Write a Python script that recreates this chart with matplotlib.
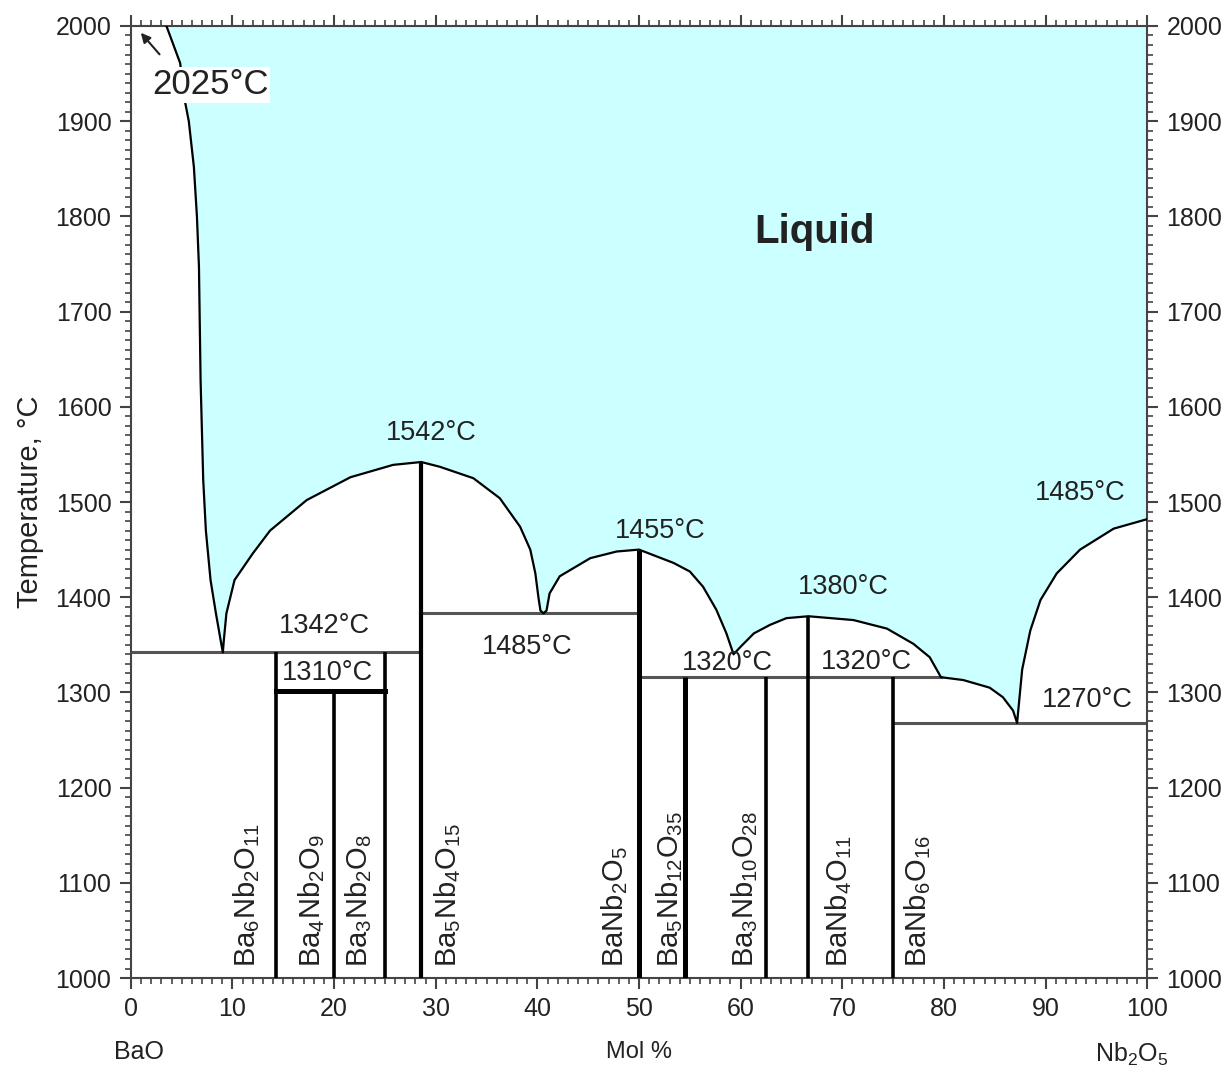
# BaO - Nb2O5 phase diagram

import matplotlib
matplotlib.use("Agg")
import matplotlib.pyplot as plt
from matplotlib.ticker import MultipleLocator

plt.rcParams["font.family"] = ["Liberation Sans", "DejaVu Sans"]
plt.rcParams["mathtext.fontset"] = "custom"
plt.rcParams["mathtext.rm"] = "Liberation Sans"
plt.rcParams["mathtext.default"] = "regular"

# liquidus curve (mol % Nb2O5, temperature in C)
liq_x = [3.5, 4.85, 5.3, 5.7, 6.2, 6.5, 6.7, 6.86, 7.12, 7.38, 7.84, 8.37, 8.83, 9.05,
         9.15, 9.4, 10.2, 12.0, 13.7, 17.3, 21.6, 25.8, 28.57,
         30.4, 33.7, 36.3, 38.3, 39.3, 39.8, 40.1, 40.3, 40.6,
         40.9, 41.2, 42.2, 45.2, 47.8, 50.0,
         53.4, 55.0, 56.3, 57.6, 58.6, 59.3,
         60.0, 61.3, 62.9, 64.5, 66.67, 71.1, 74.4, 77.0, 78.6, 79.5, 79.7,
         81.9, 84.5, 85.8, 86.8, 87.2,
         87.7, 88.5, 89.5, 91.1, 93.4, 96.7, 100.0]
liq_t = [2000, 1961, 1922, 1900, 1852, 1800, 1747, 1628, 1523, 1470, 1418, 1383, 1355, 1342,
         1355, 1383, 1418, 1446, 1470, 1502, 1526, 1539, 1542,
         1537, 1525, 1504, 1474, 1450, 1425, 1400, 1386, 1383,
         1386, 1404, 1422, 1441, 1448, 1450,
         1436, 1427, 1411, 1387, 1362, 1340,
         1348, 1362, 1371, 1378, 1380, 1376, 1367, 1351, 1337, 1320, 1316,
         1313, 1305, 1295, 1281, 1268,
         1324, 1365, 1397, 1425, 1450, 1472, 1482]

# compounds: composition, top of line, line width
comp_names = [r"Ba$_6$Nb$_2$O$_{11}$", r"Ba$_4$Nb$_2$O$_9$", r"Ba$_3$Nb$_2$O$_8$",
              r"Ba$_5$Nb$_4$O$_{15}$", r"BaNb$_2$O$_5$", r"Ba$_5$Nb$_{12}$O$_{35}$",
              r"Ba$_3$Nb$_{10}$O$_{28}$", r"BaNb$_4$O$_{11}$", r"BaNb$_6$O$_{16}$"]
comp_x = [14.29, 20.0, 25.0, 28.57, 50.0, 54.55, 62.5, 66.67, 75.0]
comp_top = [1342, 1302, 1342, 1542, 1450, 1316, 1316, 1380, 1316]
comp_lw = [2.6, 2.6, 2.6, 3.0, 3.6, 3.6, 2.6, 2.6, 2.6]
label_x = [11.4, 17.8, 22.4, 31.2, 47.6, 53.0, 60.4, 69.6, 77.4]

# invariant lines
iso_t = [1342, 1383, 1316, 1268]
iso_x0 = [0, 28.57, 50.0, 75.0]
iso_x1 = [28.57, 50.0, 79.7, 100]

# temperature labels
temp_text = ["1542°C", "1342°C", "1310°C", "1485°C", "1455°C", "1380°C",
             "1320°C", "1320°C", "1485°C", "1270°C"]
temp_x = [29.6, 19.0, 19.3, 39.0, 52.1, 70.1, 58.7, 72.4, 93.4, 94.1]
temp_y = [1573, 1370, 1320, 1348, 1470, 1411, 1331, 1332, 1509, 1292]

fig = plt.figure(figsize=(12.23, 10.73), dpi=100)
ax = fig.add_axes([0.107, 0.0885, 0.831, 0.8873])

ax.fill_between(liq_x, liq_t, 2000, color="#ccffff", lw=0, zorder=1)
ax.plot(liq_x, liq_t, color="black", lw=1.6, zorder=3)

for t, a, b in zip(iso_t, iso_x0, iso_x1):
    ax.plot([a, b], [t, t], color="#555555", lw=2.2, zorder=2)
ax.plot([14.29, 25.0], [1302, 1302], color="black", lw=3.6, zorder=3)

for x, top, lw in zip(comp_x, comp_top, comp_lw):
    ax.plot([x, x], [1000, top], color="black", lw=lw, zorder=4,
            solid_capstyle="butt")

for name, x in zip(comp_names, label_x):
    ax.text(x, 1012, name, rotation=90, ha="center", va="bottom",
            fontsize=21, color="#222222")

for s, x, y in zip(temp_text, temp_x, temp_y):
    ax.text(x, y, s, ha="center", va="center", fontsize=19.5, color="#222222")

ax.text(7.8, 1938, "2025°C", ha="center", va="center", fontsize=25, color="#222222",
        bbox=dict(facecolor="white", edgecolor="none", pad=1), zorder=5)
ax.annotate("", xy=(0.8, 1995), xytext=(3.0, 1968),
            arrowprops=dict(arrowstyle="-|>", color="#222222", lw=1.5,
                            mutation_scale=14))
ax.text(67.3, 1784, "Liquid", ha="center", va="center", fontsize=29,
        fontweight="bold", color="#222222")

ax.set_xlim(0, 100)
ax.set_ylim(1000, 2000)
ax.xaxis.set_major_locator(MultipleLocator(10))
ax.xaxis.set_minor_locator(MultipleLocator(1))
ax.yaxis.set_major_locator(MultipleLocator(100))
ax.yaxis.set_minor_locator(MultipleLocator(10))
ax.tick_params(which="both", direction="out", top=True, right=True,
               labelright=True, color="#444444", labelcolor="#222222")
ax.tick_params(which="major", length=8, width=1.5, labelsize=18, pad=6)
ax.tick_params(which="minor", length=4, width=1.2)
for sp in ax.spines.values():
    sp.set_color("#444444")
    sp.set_linewidth(1.5)

ax.set_ylabel("Temperature, °C", fontsize=21, color="#222222", labelpad=8)
ax.text(0.8, -0.078, "BaO", transform=ax.get_xaxis_transform(), ha="center",
        va="center", fontsize=18, color="#222222")
ax.text(50, -0.078, "Mol %", transform=ax.get_xaxis_transform(), ha="center",
        va="center", fontsize=17, color="#222222")
ax.text(98.5, -0.08, r"Nb$_2$O$_5$", transform=ax.get_xaxis_transform(),
        ha="center", va="center", fontsize=18, color="#222222")

fig.savefig("out.png", dpi=100)
